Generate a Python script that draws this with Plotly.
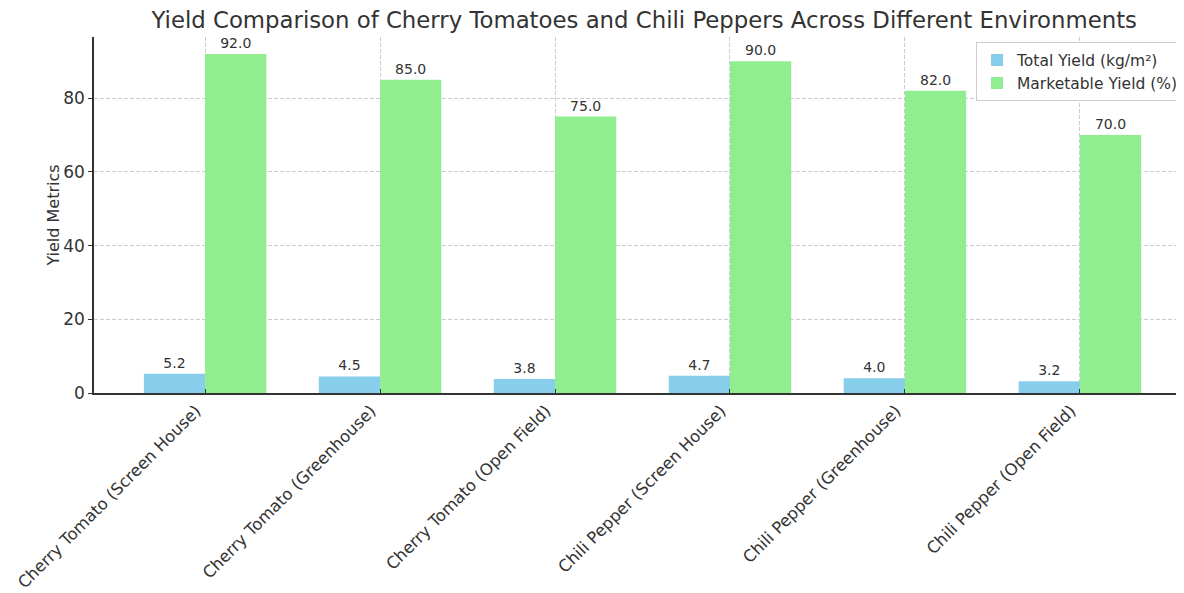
import plotly.graph_objects as go

categories = [
    "Cherry Tomato (Screen House)",
    "Cherry Tomato (Greenhouse)",
    "Cherry Tomato (Open Field)",
    "Chili Pepper (Screen House)",
    "Chili Pepper (Greenhouse)",
    "Chili Pepper (Open Field)",
]
total_yield = [5.2, 4.5, 3.8, 4.7, 4.0, 3.2]
marketable_yield = [92.0, 85.0, 75.0, 90.0, 82.0, 70.0]
y_ticks = [0, 20, 40, 60, 80]

xpos = list(range(len(categories)))
font = "DejaVu Sans"

fig = go.Figure()
fig.add_trace(go.Bar(
    x=xpos, y=total_yield, name="Total Yield (kg/m²)",
    marker=dict(color="#87CEEB", line=dict(width=0)),
    text=[f"{v:.1f}" for v in total_yield], textposition="outside",
    textfont=dict(size=14, color="#333333", family=font), cliponaxis=False,
))
fig.add_trace(go.Bar(
    x=xpos, y=marketable_yield, name="Marketable Yield (%)",
    marker=dict(color="#90EE90", line=dict(width=0)),
    text=[f"{v:.1f}" for v in marketable_yield], textposition="outside",
    textfont=dict(size=14, color="#333333", family=font), cliponaxis=False,
))

fig.update_layout(
    width=1176, height=585,
    barmode="group", bargap=0.3, bargroupgap=0,
    paper_bgcolor="white", plot_bgcolor="white",
    margin=dict(l=86, r=0, t=29, b=200, autoexpand=False),
    font=dict(family=font, color="#333333"),
    title=dict(text="Yield Comparison of Cherry Tomatoes and Chili Peppers Across Different Environments",
               x=0.541, xanchor="center", y=0.979, yanchor="middle",
               font=dict(size=22.8, color="#333333", family=font)),
    legend=dict(x=1.0, xanchor="right", y=0.985, yanchor="top",
                bordercolor="#cccccc", borderwidth=1, bgcolor="white",
                font=dict(size=15.5, color="#333333", family=font),
                tracegroupgap=0),
    showlegend=True,
)
fig.update_xaxes(
    range=[-0.635, 5.595], tickmode="array", tickvals=xpos, ticktext=categories,
    tickangle=-45, tickfont=dict(size=16.4, color="#333333"), automargin=False,
    ticklabelshift=-9, ticklabelstandoff=0, ticklabeloverflow="allow",
    showgrid=True, gridcolor="#cccccc", griddash="4px,2px", gridwidth=0.8,
    showline=True, linecolor="#333333", linewidth=1.5,
    ticks="inside", ticklen=4, tickcolor="#333333", zeroline=False,
)
fig.update_yaxes(
    range=[0, 96.6], tickmode="array", tickvals=y_ticks, automargin=False,
    tickfont=dict(size=17, color="#333333"),
    title=dict(text="Yield Metrics", font=dict(size=16, color="#333333"), standoff=0),
    showgrid=True, gridcolor="#cccccc", griddash="4px,2px", gridwidth=0.8,
    showline=True, linecolor="#333333", linewidth=1.5,
    ticks="outside", ticklen=4, tickcolor="#333333", zeroline=False,
)

fig.write_html("out.html")
